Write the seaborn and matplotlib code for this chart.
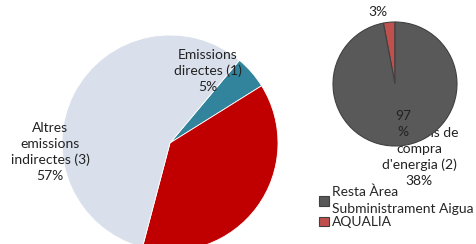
import matplotlib
matplotlib.use("Agg")
import matplotlib.pyplot as plt
import seaborn as sns

# Dades
categories_total = ["Emissions directes (1)", "Emissions de compra d'energia (2)", "Altres emissions indirectes (3)"]
valors_total = [5, 38, 57]
colors_total = ["#31849B", "#C00000", "#D9E0EC"]

categories_aqualia = ["AQUALIA", "Resta Àrea\nSubministrament Aigua"]
valors_aqualia = [3, 97]
colors_aqualia = ["#C0504D", "#595959"]

sns.set_style("white")
plt.rcParams["font.family"] = ["Lato", "DejaVu Sans"]

W, H = 476, 244
fig = plt.figure(figsize=(W / 100, H / 100), dpi=100)

def px_axes(x0, y0, w, h):
    return fig.add_axes([x0 / W, 1 - (y0 + h) / H, w / W, h / H])

# ------------------------------------------
# Pastís gran
ax1 = px_axes(62, 35, 216, 216)
wedges1, _ = ax1.pie(valors_total, colors=colors_total, startangle=50,
                     counterclock=False, radius=1,
                     wedgeprops=dict(linewidth=0.6, edgecolor="white"))
ax1.set_xlim(-1, 1)
ax1.set_ylim(-1, 1)
ax1.set_aspect("equal")
ax1.axis("off")

fs = 10
ls = 1.35
fig.text(208 / W, 1 - 71 / H, "Emissions\ndirectes (1)\n5%", ha="center", va="center",
         fontsize=fs, linespacing=ls, color="#222222")
fig.text(50 / W, 1 - 152 / H, "Altres\nemissions\nindirectes (3)\n57%", ha="center", va="center",
         fontsize=fs, linespacing=ls, color="#222222")
fig.text(419 / W, 1 - 157 / H, "Emissions de\ncompra\nd'energia (2)\n38%", ha="center", va="center",
         fontsize=fs, linespacing=ls, color="#222222", zorder=0)

# ------------------------------------------
# Pastís petit (AQUALIA)
ax2 = px_axes(333, 22, 124, 124)
ax2.set_zorder(2)
wedges2, _ = ax2.pie(valors_aqualia, colors=colors_aqualia, startangle=90,
                     counterclock=True, radius=1,
                     wedgeprops=dict(linewidth=0.8, edgecolor="#404040"))
ax2.set_xlim(-1, 1)
ax2.set_ylim(-1, 1)
ax2.set_aspect("equal")
ax2.axis("off")
ax2.patch.set_alpha(0)

fig.text(378 / W, 1 - 12 / H, f"{valors_aqualia[0]}%", ha="center", va="center",
         fontsize=fs, color="#222222")
fig.text(403 / W, 1 - 124 / H, f"{valors_aqualia[1]}\n%", ha="center", va="center",
         fontsize=fs, linespacing=ls, color="#222222", zorder=5)

# Llegenda
leg = fig.legend([wedges2[1], wedges2[0]], [categories_aqualia[1], categories_aqualia[0]],
                 loc="upper left", bbox_to_anchor=(319 / W, 1 - 186 / H),
                 frameon=False, fontsize=fs, handlelength=0.7, handleheight=0.7,
                 handletextpad=0.25, labelspacing=0.1, borderpad=0, borderaxespad=0)
for t in leg.get_texts():
    t.set_linespacing(1.45)

fig.savefig("out.png", dpi=100)
